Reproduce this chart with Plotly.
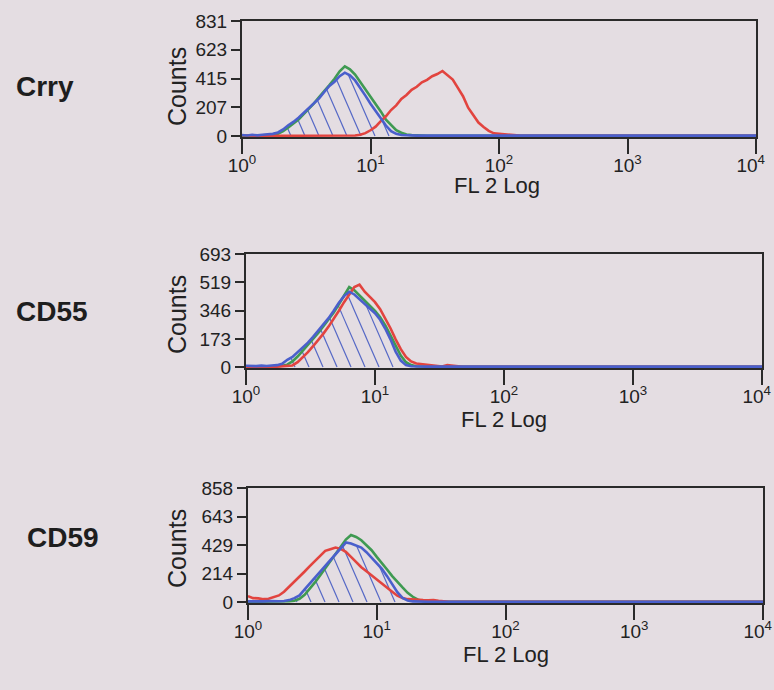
import numpy as np
import plotly.graph_objects as go

# ---------------- data (log10 of FL2 channel, counts) ----------------
LOG_X = [0.00, 0.04, 0.08, 0.12, 0.16, 0.20, 0.24, 0.28, 0.32, 0.36,
         0.40, 0.44, 0.48, 0.52, 0.56, 0.60, 0.64, 0.68, 0.72, 0.76,
         0.80, 0.84, 0.88, 0.92, 0.96, 1.00, 1.04, 1.08, 1.12, 1.16,
         1.20, 1.24, 1.28, 1.32, 1.36, 1.40, 1.44, 1.48, 1.52, 1.56,
         1.60, 1.64, 1.68, 1.72, 1.76, 1.80, 1.84, 1.88, 1.92, 1.96,
         2.00, 2.04, 2.08, 2.12, 2.16, 2.20, 4.00]

CRRY_BLUE = [8, 4, 9, 5, 10, 12, 16, 26, 48, 78,
             102, 133, 168, 203, 244, 272, 318, 362, 392, 433,
             458, 438, 402, 342, 292, 233, 182, 122, 76, 36,
             16, 8, 5, 4, 3, 3, 3, 3, 3, 3,
             3, 3, 3, 3, 3, 3, 3, 3, 3, 3,
             3, 3, 3, 3, 3, 3, 3]
CRRY_GREEN = [3, 2, 3, 4, 5, 6, 9, 16, 35, 62,
              92, 120, 158, 196, 236, 282, 322, 368, 414, 468,
              503, 482, 444, 392, 338, 287, 229, 178, 118, 78,
              42, 24, 12, 7, 4, 3, 2, 2, 2, 2,
              2, 2, 2, 2, 2, 2, 2, 2, 2, 2,
              2, 2, 2, 2, 2, 2, 2]
CRRY_RED = [6, 3, 2, 2, 2, 2, 2, 2, 2, 2,
            2, 2, 2, 2, 2, 2, 2, 2, 2, 2,
            3, 3, 4, 9, 21, 42, 68, 108, 143, 188,
            222, 268, 297, 334, 356, 388, 406, 432, 448, 470,
            442, 408, 348, 288, 205, 152, 98, 66, 38, 20,
            16, 13, 8, 5, 3, 2, 2]

CD55_BLUE = [8, 5, 6, 9, 7, 10, 12, 20, 45, 62,
             90, 118, 150, 185, 222, 262, 300, 345, 395, 435,
             462, 445, 415, 388, 360, 330, 290, 235, 170, 95,
             40, 12, 5, 3, 3, 3, 3, 3, 3, 3,
             3, 3, 3, 3, 3, 3, 3, 3, 3, 3,
             3, 3, 3, 3, 3, 3, 3]
CD55_GREEN = [3, 2, 3, 2, 3, 4, 5, 8, 15, 35,
              65, 100, 135, 172, 210, 250, 290, 335, 385, 440,
              490, 470, 440, 410, 378, 345, 305, 255, 195, 130,
              70, 30, 12, 5, 3, 2, 2, 2, 2, 2,
              2, 2, 2, 2, 2, 2, 2, 2, 2, 2,
              2, 2, 2, 2, 2, 2, 2]
CD55_RED = [3, 2, 2, 2, 3, 2, 3, 4, 6, 10,
            30, 60, 92, 128, 165, 205, 248, 295, 345, 398,
            445, 490, 505, 462, 430, 398, 355, 300, 238, 170,
            110, 62, 35, 22, 18, 12, 10, 6, 4, 12,
            8, 3, 2, 2, 2, 2, 2, 2, 2, 2,
            2, 2, 2, 2, 2, 2, 2]

CD59_BLUE = [5, 4, 6, 5, 7, 5, 6, 8, 15, 30,
             50, 95, 140, 185, 228, 270, 318, 365, 410, 448,
             440, 425, 410, 375, 335, 298, 250, 195, 135, 75,
             32, 12, 5, 3, 3, 3, 3, 3, 3, 3,
             3, 3, 3, 3, 3, 3, 3, 3, 3, 3,
             3, 3, 3, 3, 3, 3, 3]
CD59_GREEN = [2, 2, 3, 2, 3, 2, 3, 4, 6, 10,
              25, 55, 100, 148, 200, 255, 310, 365, 420, 470,
              505, 490, 465, 430, 390, 340, 295, 245, 195, 150,
              110, 70, 40, 18, 6, 2, 2, 2, 2, 2,
              2, 2, 2, 2, 2, 2, 2, 2, 2, 2,
              2, 2, 2, 2, 2, 2, 2]
CD59_RED = [45, 30, 28, 22, 25, 35, 50, 78, 115, 150,
            190, 230, 270, 310, 350, 385, 398, 410, 400, 378,
            340, 300, 262, 232, 200, 170, 138, 105, 78, 48,
            30, 22, 18, 16, 15, 14, 15, 10, 4, 2,
            2, 2, 2, 2, 2, 2, 2, 2, 2, 2,
            2, 2, 2, 2, 2, 2, 2]

ROW_LABELS = ["Crry", "CD55", "CD59"]
Y_TICKS = [[0, 207, 415, 623, 831],
           [0, 173, 346, 519, 693],
           [0, 214, 429, 643, 858]]
X_TICKVALS = [1, 10, 100, 1000, 10000]
X_TICKTEXT = ["10<sup>0</sup>", "10<sup>1</sup>", "10<sup>2</sup>",
              "10<sup>3</sup>", "10<sup>4</sup>&nbsp;&nbsp;"]
X_TITLE = "FL 2 Log"
Y_TITLE = "Counts"

# ---------------- styling / layout ----------------
W, H = 774, 690
BG = "#e4dde2"
BLUE = "#4a5fcc"
GREEN = "#3f9a52"
RED = "#e2443f"
AXC = "#2a2a2a"
FONT = "Liberation Sans, Arial, sans-serif"

# panel pixel boxes: (left, right, top, bottom)
BOXES = [(242, 756, 21, 137), (246, 762, 254, 368), (248, 763, 488, 603)]
ROW_LABEL_POS = [(14, 87), (14, 311), (25, 537)]
TITLE_X_CENTERS = [497, 504, 506]
TITLE_X_Y = [185, 419, 654]
COUNTS_Y = [87, 315, 549]

series = [(CRRY_BLUE, CRRY_GREEN, CRRY_RED),
          (CD55_BLUE, CD55_GREEN, CD55_RED),
          (CD59_BLUE, CD59_GREEN, CD59_RED)]

lx = np.array(LOG_X, dtype=float)
xlin = 10 ** lx


def hatch(counts, ppd, ppc, spacing_px=14.0, slope_px=2.3, thresh=25):
    """Hatch lines under a curve, rising up-left from the baseline."""
    c = np.array(counts, dtype=float)
    s = slope_px * ppd / ppc          # counts per decade
    step = spacing_px / ppd
    hx, hy = [], []
    xb = lx[0] + step / 2
    while xb < 2.5:
        cb = np.interp(xb, lx, c)
        if cb > thresh:
            xx = np.linspace(xb - 1.0, xb, 3000)
            cc = np.interp(xx, lx, c)
            ll = s * (xb - xx)
            idx = np.where(ll >= cc)[0]
            if len(idx):
                xh = xx[idx.max()]
                yh = s * (xb - xh)
                hx += [10 ** xb, 10 ** xh, None]
                hy += [0, yh, None]
        xb += step
    return hx, hy


fig = go.Figure()
layout = {}
annotations = []

for i, ((bl, gr, rd), box, yt, lab, lpos) in enumerate(
        zip(series, BOXES, Y_TICKS, ROW_LABELS, ROW_LABEL_POS)):
    n = "" if i == 0 else str(i + 1)
    xa, ya = "x" + n, "y" + n
    left, right, top, bottom = box
    ymax = yt[-1]
    ymin = -ymax * 0.008
    ppd = (right - left) / 4.0
    ppc = (bottom - top) / (ymax - ymin)

    hx, hy = hatch(bl, ppd, ppc)
    fig.add_trace(go.Scatter(x=hx, y=hy, mode="lines", xaxis=xa, yaxis=ya,
                             line=dict(color="#5568c6", width=1.2),
                             hoverinfo="skip", showlegend=False))
    for vals, col in ((gr, GREEN), (rd, RED), (bl, BLUE)):
        fig.add_trace(go.Scatter(x=xlin, y=vals, mode="lines", xaxis=xa,
                                 yaxis=ya, line=dict(color=col, width=2.6),
                                 showlegend=False))

    layout["xaxis" + n] = dict(
        type="log", range=[0, 4], anchor=ya, automargin=False,
        domain=[left / W, right / W],
        tickvals=X_TICKVALS, ticktext=X_TICKTEXT,
        ticks="outside", ticklen=15, tickwidth=1.5, tickcolor=AXC,
        ticklabelstandoff=-5, ticklabeloverflow="allow",
        showline=True, linewidth=2, linecolor=AXC, mirror=True,
        showgrid=False, zeroline=False,
        tickfont=dict(family=FONT, size=19, color="#222"))
    layout["yaxis" + n] = dict(
        range=[ymin, ymax], anchor=xa, automargin=False,
        domain=[1 - bottom / H, 1 - top / H],
        tickvals=yt, ticks="outside", ticklen=9, tickwidth=1.5,
        ticklabeloverflow="allow",
        tickcolor=AXC, showline=True, linewidth=2, linecolor=AXC,
        mirror=True, showgrid=False, zeroline=False,
        tickfont=dict(family=FONT, size=19, color="#222"))

    annotations.append(dict(
        text="<b>%s</b>" % lab, x=lpos[0] / W, y=1 - lpos[1] / H,
        xref="paper", yref="paper", xanchor="left", yanchor="middle",
        showarrow=False, font=dict(family=FONT, size=28, color="#1e1e1e")))
    annotations.append(dict(
        text=Y_TITLE, x=177 / W, y=1 - COUNTS_Y[i] / H,
        xref="paper", yref="paper", xanchor="center", yanchor="middle",
        textangle=-90, showarrow=False,
        font=dict(family=FONT, size=25, color="#222")))
    annotations.append(dict(
        text=X_TITLE, x=TITLE_X_CENTERS[i] / W, y=1 - TITLE_X_Y[i] / H,
        xref="paper", yref="paper", xanchor="center", yanchor="middle",
        showarrow=False, font=dict(family=FONT, size=22, color="#222")))

fig.update_layout(
    width=W, height=H, margin=dict(l=0, r=0, t=0, b=0, autoexpand=False),
    paper_bgcolor=BG, plot_bgcolor=BG,
    annotations=annotations, **layout)

fig.write_html(
    "out.html",
    config={"displayModeBar": False},
    post_script="document.body.style.margin='0px';"
                "document.body.style.background='%s';" % BG)
